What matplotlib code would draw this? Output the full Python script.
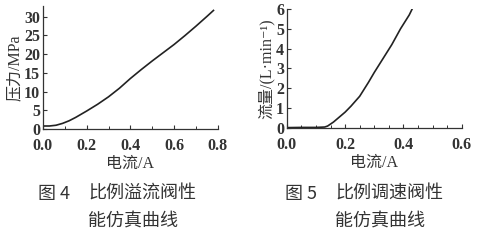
import matplotlib.pyplot as plt

plt.rcParams['font.family'] = ['Liberation Serif', 'Noto Sans CJK SC', 'DejaVu Sans']

# 图4 比例溢流阀: 电流 vs 压力
i4 = [0.0, 0.03, 0.06, 0.09, 0.12, 0.15, 0.2, 0.25, 0.3, 0.35, 0.4, 0.45, 0.5, 0.55, 0.6, 0.65, 0.7, 0.75, 0.78]
p4 = [0.8, 0.8, 1.0, 1.5, 2.2, 3.1, 4.8, 6.6, 8.6, 10.9, 13.5, 15.9, 18.2, 20.4, 22.6, 25.0, 27.5, 30.1, 31.7]

# 图5 比例调速阀: 电流 vs 流量
i5 = [0.0, 0.05, 0.1, 0.13, 0.14, 0.16, 0.18, 0.2, 0.22, 0.25, 0.28, 0.3, 0.33, 0.36, 0.39, 0.42, 0.43]
q5 = [0.02, 0.03, 0.03, 0.05, 0.1, 0.3, 0.55, 0.8, 1.1, 1.6, 2.3, 2.8, 3.5, 4.2, 5.0, 5.7, 6.0]

fig = plt.figure(figsize=(4.82, 2.42), dpi=100)
ax1 = fig.add_axes([0.089, 0.467, 0.363, 0.51])
ax2 = fig.add_axes([0.595, 0.471, 0.363, 0.492])

lc = '#222222'
ax1.plot(i4, p4, color=lc, lw=1.2)
ax1.set_xlim(0, 0.8)
ax1.set_ylim(0, 33)
ax1.set_xticks([0.0, 0.2, 0.4, 0.6, 0.8])
ax1.set_xticks([0.1, 0.3, 0.5, 0.7], minor=True)
ax1.set_yticks([0, 5, 10, 15, 20, 25, 30])
ax1.set_xlabel('电流/A', fontsize=11.5, labelpad=1)
ax1.set_ylabel('压力/MPa', fontsize=11.5, labelpad=1)

ax2.plot(i5, q5, color=lc, lw=1.2)
ax2.set_xlim(0, 0.6)
ax2.set_ylim(0, 6)
ax2.set_xticks([0.0, 0.2, 0.4, 0.6])
ax2.set_xticks([0.05, 0.1, 0.15, 0.25, 0.3, 0.35, 0.45, 0.5, 0.55], minor=True)
ax2.set_yticks([0, 1, 2, 3, 4, 5, 6])
ax2.set_xlabel('电流/A', fontsize=11.5, labelpad=1)
ax2.set_ylabel('流量/(L·min⁻¹)', fontsize=11.5, labelpad=1)

for ax in (ax1, ax2):
    ax.spines['top'].set_visible(False)
    ax.spines['right'].set_visible(False)
    for s in ('left', 'bottom'):
        ax.spines[s].set_color('#333333')
        ax.spines[s].set_linewidth(0.9)
    ax.tick_params(direction='in', length=3, width=0.8, labelsize=11.5, colors='#333333')
    ax.tick_params(axis='x', pad=6.5)
    ax.tick_params(axis='y', pad=2)
    ax.tick_params(which='minor', direction='in', length=2, width=0.7, colors='#333333')
    for lab in ax.get_xticklabels() + ax.get_yticklabels():
        lab.set_fontweight('bold')
    ax.xaxis.label.set_color('#333333')
    ax.yaxis.label.set_color('#333333')

cap = dict(fontsize=13, color='#333333', family=['Noto Sans CJK SC', 'DejaVu Sans'])
fig.text(38 / 482, 1 - 194 / 242, '图 4', va='center', **cap)
fig.text(88 / 482, 1 - 194 / 242, '比例溢流阀性', va='center', **cap)
fig.text(88 / 482, 1 - 222 / 242, '能仿真曲线', va='center', **cap)
fig.text(285 / 482, 1 - 194 / 242, '图 5', va='center', **cap)
fig.text(335 / 482, 1 - 194 / 242, '比例调速阀性', va='center', **cap)
fig.text(335 / 482, 1 - 222 / 242, '能仿真曲线', va='center', **cap)

fig.savefig('out.png', dpi=100)
